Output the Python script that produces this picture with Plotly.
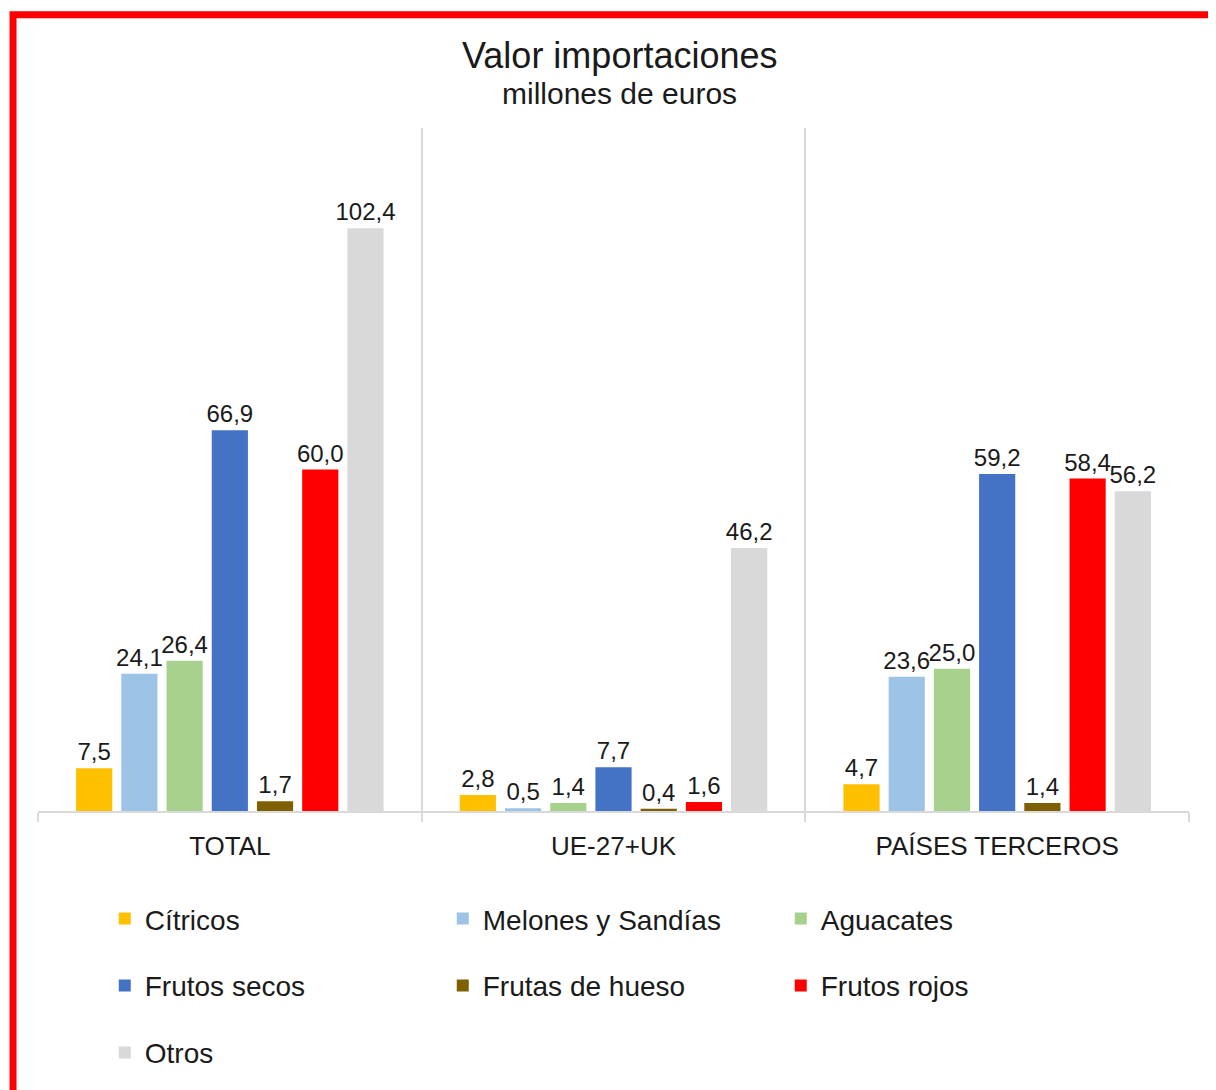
import plotly.graph_objects as go

regions = ["TOTAL", "UE-27+UK", "PAÍSES TERCEROS"]
products = ["Cítricos", "Melones y Sandías", "Aguacates", "Frutos secos",
            "Frutas de hueso", "Frutos rojos", "Otros"]
citricos = [7.5, 2.8, 4.7]
melones = [24.1, 0.5, 23.6]
aguacates = [26.4, 1.4, 25.0]
frutos_secos = [66.9, 7.7, 59.2]
frutas_hueso = [1.7, 0.4, 1.4]
frutos_rojos = [60.0, 1.6, 58.4]
otros = [102.4, 46.2, 56.2]

series = [citricos, melones, aguacates, frutos_secos, frutas_hueso, frutos_rojos, otros]
colors = ["#FFC000", "#9DC3E6", "#A9D18E", "#4472C4", "#7F6000", "#FF0000", "#D9D9D9"]
# one legend per row, 3 entries each
legend_of = ["legend", "legend", "legend", "legend2", "legend2", "legend2", "legend3"]

FONT = "Liberation Sans, Arial, sans-serif"

fig = go.Figure()
for name, vals, col, lg in zip(products, series, colors, legend_of):
    fig.add_trace(go.Bar(
        x=regions, y=vals, name=name,
        marker=dict(color=col, line=dict(width=0)),
        text=[f"{v:.1f}".replace(".", ",") for v in vals],
        textposition="outside",
        constraintext="none",
        cliponaxis=False,
        textfont=dict(size=24, color="#1a1a1a", family=FONT),
        legend=lg,
    ))

legend_style = dict(
    orientation="h", xanchor="left", yanchor="middle", x=0.058,
    font=dict(size=28, color="#1a1a1a", family=FONT),
    entrywidthmode="pixels", entrywidth=293,
    bgcolor="rgba(0,0,0,0)", traceorder="normal",
)

# page body adds an 8px offset, so the figure is drawn 8px smaller
fig.update_layout(
    width=1208, height=1082,
    margin=dict(l=30, r=27, t=120, b=277),
    paper_bgcolor="white", plot_bgcolor="white",
    font=dict(family=FONT, color="#1a1a1a"),
    barmode="group", bargap=0.175, bargroupgap=0.2,
    legend=dict(legend_style, y=-0.158),
    legend2=dict(legend_style, y=-0.256),
    legend3=dict(legend_style, y=-0.354),
    xaxis=dict(
        type="category", tickson="boundaries", showgrid=True,
        gridcolor="#D9D9D9", gridwidth=2,
        ticks="outside", ticklen=9, tickwidth=2, tickcolor="#D9D9D9",
        showline=True, linecolor="#D9D9D9", linewidth=2,
        ticklabelstandoff=11,
        tickfont=dict(size=26, color="#1a1a1a", family=FONT),
    ),
    yaxis=dict(range=[0, 120], showgrid=False, showticklabels=False,
               zeroline=False, showline=False, ticks=""),
    annotations=[
        dict(text="Valor importaciones", xref="paper", yref="paper",
             x=0.5052, y=1.1066, xanchor="center", yanchor="middle",
             showarrow=False, font=dict(size=36, color="#1a1a1a", family=FONT)),
        dict(text="millones de euros", xref="paper", yref="paper",
             x=0.5052, y=1.0511, xanchor="center", yanchor="middle",
             showarrow=False, font=dict(size=30, color="#1a1a1a", family=FONT)),
    ],
    shapes=[dict(
        type="rect", xref="paper", yref="paper",
        x0=-0.0217, x1=1.1, y0=-0.5, y1=1.1657,
        line=dict(color="#FF0000", width=7), layer="above",
    )],
)

fig.write_html("out.html")
